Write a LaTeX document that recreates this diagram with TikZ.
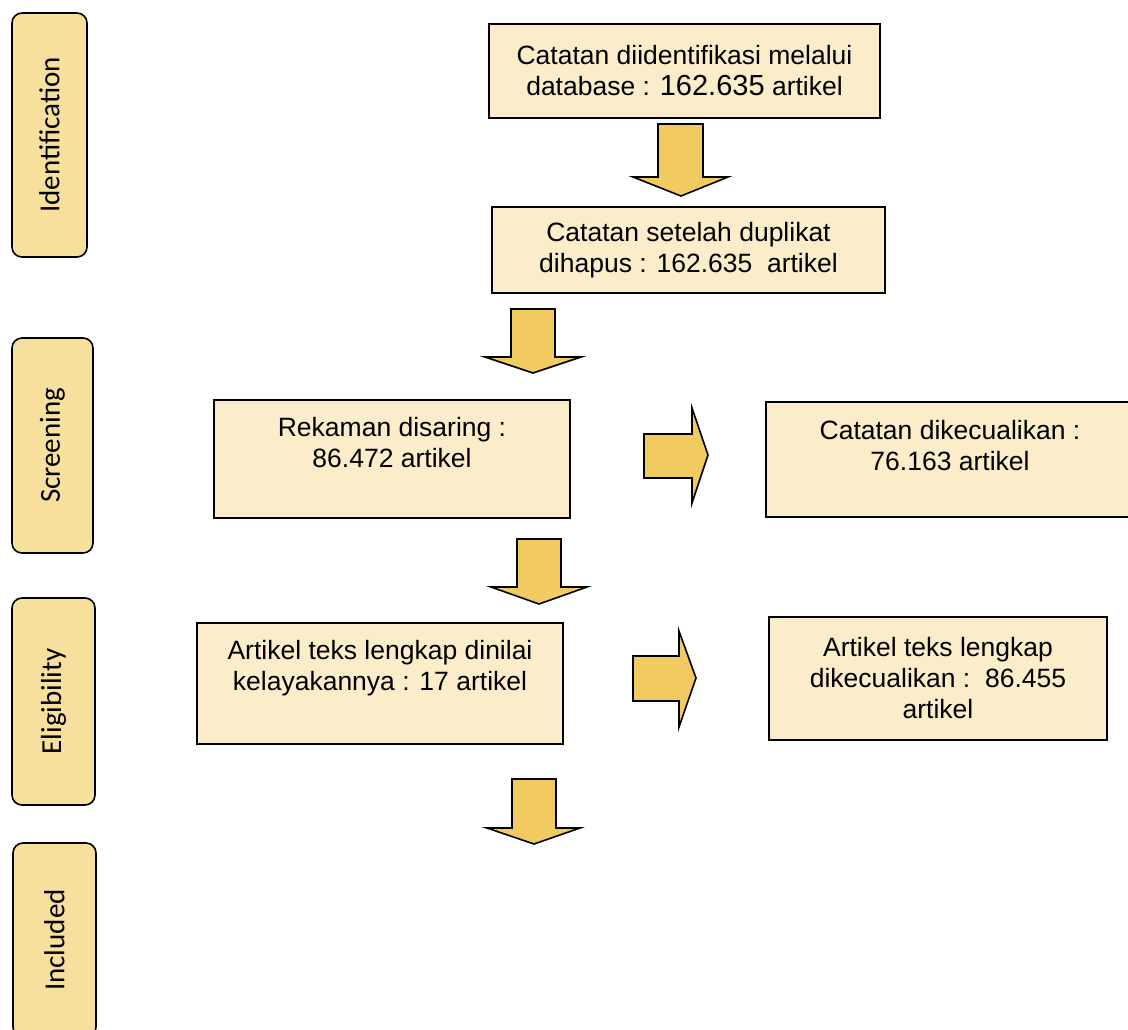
\documentclass[tikz,border=0pt]{standalone}
\usepackage{fontspec}
\setmainfont{Liberation Sans}
\newfontfamily\sidefont{Carlito}
\definecolor{sidefill}{RGB}{247,223,157}
\definecolor{boxfill}{RGB}{252,237,202}
\definecolor{arrowfill}{RGB}{241,203,98}
\tikzset{
  sidebox/.style={draw=black, line width=1.6pt, fill=sidefill, rounded corners=10pt,
    rotate=90, inner sep=0pt, font=\sidefont\fontsize{29}{34}\selectfont},
  mainbox/.style={draw=black, line width=1.6pt, fill=boxfill, inner sep=0pt,
    align=center, font=\fontsize{26.5}{31}\selectfont},
  boxtext/.style={inner sep=0pt, align=center, font=\fontsize{26.5}{31}\selectfont},
  blockarrow/.style={draw=black, line width=1.6pt, fill=arrowfill, line join=miter}
}
\begin{document}
\begin{tikzpicture}[x=1pt, y=-1pt]
\useasboundingbox (0,0) rectangle (1128,1029);
% side labels
\node[sidebox, minimum width=244, minimum height=75] (sid) at (49.5,135) {Identification};
\node[sidebox, minimum width=215, minimum height=81] (sscr) at (52.5,445.5) {Screening};
\node[sidebox, minimum width=207, minimum height=83] (selig) at (53.5,701.5) {Eligibility};
\node[sidebox, minimum width=194, minimum height=83] (sinc) at (54.5,940) {Included};
% main boxes
\node[mainbox, minimum width=391, minimum height=94] (b1) at (684.5,71)
  {Catatan diidentifikasi melalui\\database : {\fontsize{29}{31}\selectfont 162.635} artikel};
\node[mainbox, minimum width=393, minimum height=86] (b2) at (688.5,250)
  {Catatan setelah duplikat\\dihapus : 162.635\ \ artikel};
\node[mainbox, minimum width=356, minimum height=118] (b3) at (392,459) {};
\node[boxtext] (t3) at (392,443) {Rekaman disaring :\\86.472 artikel};
\node[mainbox, minimum width=380, minimum height=115] (b4) at (956,459.5) {};
\node[boxtext] (t4) at (950,446) {Catatan dikecualikan :\\76.163 artikel};
\node[mainbox, minimum width=366, minimum height=121] (b5) at (380,683.5) {};
\node[boxtext] (t5) at (380,668) {Artikel teks lengkap dinilai\\kelayakannya : 17 artikel};
\node[mainbox, minimum width=338, minimum height=123] (b6) at (938,678.5)
  {Artikel teks lengkap\\dikecualikan :\ \ 86.455\\artikel};
% block arrows
\draw[blockarrow] (658,124) -- (703,124) -- (703,177) -- (728,177) -- (681,196) -- (633,177) -- (658,177) -- cycle;
\draw[blockarrow] (511,309) -- (555,309) -- (555,357) -- (581,357) -- (533,373) -- (485,357) -- (511,357) -- cycle;
\draw[blockarrow] (517,539) -- (561,539) -- (561,587) -- (587,587) -- (539,604) -- (491,587) -- (517,587) -- cycle;
\draw[blockarrow] (512,779) -- (556,779) -- (556,828) -- (580,828) -- (534,844) -- (487,828) -- (512,828) -- cycle;
\draw[blockarrow] (644,434) -- (692,434) -- (692,408) -- (708,455) -- (692,503) -- (692,478) -- (644,478) -- cycle;
\draw[blockarrow] (633,656) -- (679,656) -- (679,631) -- (696,678) -- (679,727) -- (679,701) -- (633,701) -- cycle;
\end{tikzpicture}
\end{document}
